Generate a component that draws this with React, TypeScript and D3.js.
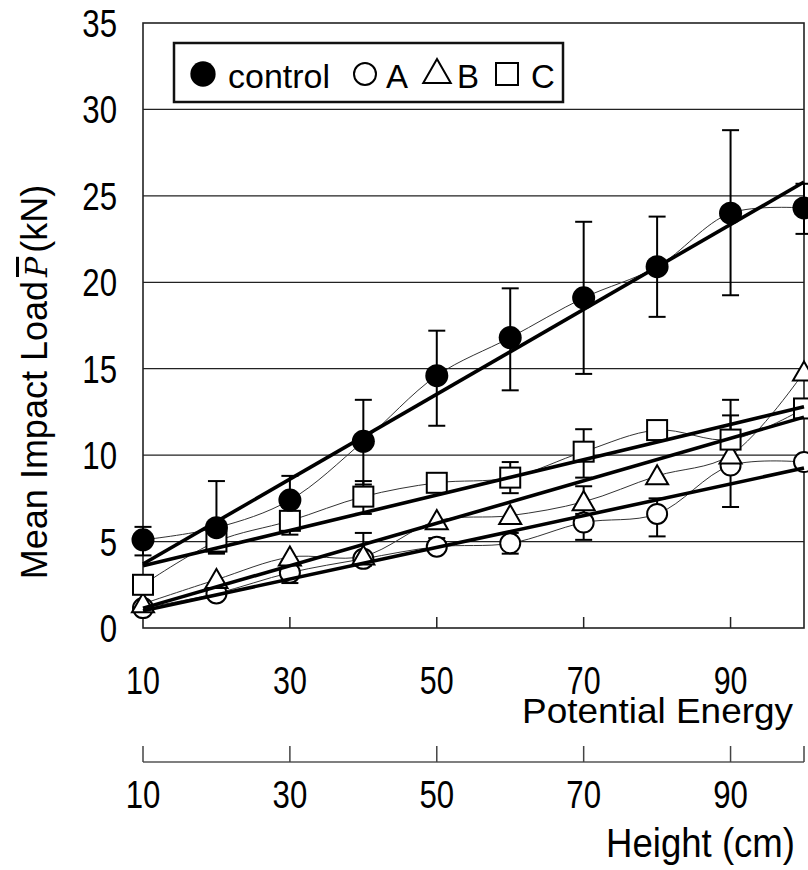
import React from "react";
import * as d3 from "d3";

// x positions (potential energy / height)
const heights = [10, 20, 30, 40, 50, 60, 70, 80, 90, 100];
const xTicks = [10, 30, 50, 70, 90];
const yTicks = [0, 5, 10, 15, 20, 25, 30, 35];
const gridValues = [5, 10, 15, 20, 25, 30];

// mean impact load (kN)
const controlValues = [5.1, 5.8, 7.4, 10.8, 14.6, 16.8, 19.1, 20.9, 24.0, 24.3];
const aValues = [1.15, 2.0, 3.2, 4.0, 4.7, 4.9, 6.1, 6.6, 9.4, 9.6];
const bValues = [1.4, 2.8, 4.1, 4.15, 6.2, 6.5, 7.3, 8.8, 10.0, 14.8];
const cValues = [2.5, 5.0, 6.2, 7.6, 8.4, 8.7, 10.2, 11.45, 10.9, 12.7];

// error bars [low, high]
const controlErr = [[4.2, 5.85], [4.3, 8.5], [6.0, 8.8], [8.3, 13.2], [11.7, 17.2], [13.75, 19.65], [14.7, 23.5], [18.0, 23.8], [19.25, 28.8], [22.8, 25.7]];
const aErr = [null, null, [2.6, 3.8], null, [4.4, 5.2], [4.3, 5.5], [5.1, 7.0], [5.3, 7.5], null, null];
const bErr = [null, null, null, [3.6, 5.5], null, null, [6.6, 8.2], null, [7.0, 13.2], null];
const cErr = [null, [4.35, 5.6], [5.4, 7.0], [6.6, 8.5], null, [7.8, 9.6], [8.7, 11.5], null, [9.6, 12.3], null];

// fitted straight lines [value at 10, value at 100]
const controlFit = [3.7, 25.8];
const aFit = [1.0, 9.25];
const bFit = [1.15, 12.2];
const cFit = [3.6, 12.8];

const W = 808;
const H = 870;
const x = d3.scaleLinear().domain([10, 100]).range([143, 804]);
const y = d3.scaleLinear().domain([0, 35]).range([628, 23]);

const sans = "'Liberation Sans', Arial, sans-serif";

type Kind = "filled" | "circle" | "triangle" | "square";

const Marker = ({ kind, cx, cy, big }: { kind: Kind; cx: number; cy: number; big?: boolean }) => {
  const k = big ? 1.1 : 1;
  if (kind === "filled") return <circle cx={cx} cy={cy} r={11.5 * k} fill="#000" />;
  if (kind === "circle")
    return <circle cx={cx} cy={cy} r={10 * k} fill="#fff" stroke="#000" strokeWidth={2} />;
  if (kind === "square")
    return <rect x={cx - 10 * k} y={cy - 10 * k} width={20 * k} height={20 * k} fill="#fff" stroke="#000" strokeWidth={2} />;
  const tk = big ? 1.25 : 1;
  const tri = d3.symbol(d3.symbolTriangle, 210 * tk * tk)();
  return <path d={tri || ""} transform={`translate(${cx},${cy + 2})`} fill="#fff" stroke="#000" strokeWidth={2} />;
};

// condensed-looking text, squeezed horizontally
const Narrow = ({ tx, ty, size, anchor, sx, children }: any) => (
  <text
    transform={`translate(${tx},${ty}) scale(${sx ?? 0.8},1)`}
    textAnchor={anchor ?? "middle"}
    fontFamily={sans}
    fontSize={size}
  >
    {children}
  </text>
);

const series = [
  { kind: "circle" as Kind, values: aValues, err: aErr, fit: aFit },
  { kind: "triangle" as Kind, values: bValues, err: bErr, fit: bFit },
  { kind: "square" as Kind, values: cValues, err: cErr, fit: cFit },
  { kind: "filled" as Kind, values: controlValues, err: controlErr, fit: controlFit },
];

const smooth = d3
  .line<number>()
  .x((_, i) => x(heights[i]))
  .y((d) => y(d))
  .curve(d3.curveCatmullRom.alpha(0.5));

export default function App() {
  return (
    <svg width={W} height={H} style={{ position: "absolute", left: 0, top: 0, background: "#fff" }}>
      <rect width={W} height={H} fill="#fff" />
      {/* grid */}
      {gridValues.map((v) => (
        <line key={v} x1={x(10)} x2={x(100)} y1={y(v)} y2={y(v)} stroke="#222" strokeWidth={1.2} />
      ))}
      {/* frame */}
      <rect x={x(10)} y={y(35)} width={x(100) - x(10)} height={y(0) - y(35)} fill="none" stroke="#222" strokeWidth={1.6} />
      {xTicks.slice(1).map((t) => (
        <line key={t} x1={x(t)} x2={x(t)} y1={y(0)} y2={y(0) - 11} stroke="#222" strokeWidth={1.5} />
      ))}

      {/* thin smoothed connecting lines */}
      {series.map((s) => (
        <path key={s.kind} d={smooth(s.values) || ""} fill="none" stroke="#333" strokeWidth={1} />
      ))}

      {/* error bars */}
      {series.map((s) =>
        s.err.map((e, i) =>
          e ? (
            <g key={s.kind + i} stroke="#000" strokeWidth={2}>
              <line x1={x(heights[i])} x2={x(heights[i])} y1={y(e[0])} y2={y(e[1])} />
              <line x1={x(heights[i]) - 8.5} x2={x(heights[i]) + 8.5} y1={y(e[0])} y2={y(e[0])} />
              <line x1={x(heights[i]) - 8.5} x2={x(heights[i]) + 8.5} y1={y(e[1])} y2={y(e[1])} />
            </g>
          ) : null
        )
      )}

      {/* markers */}
      {series.map((s) =>
        s.values.map((v, i) => <Marker key={s.kind + "m" + i} kind={s.kind} cx={x(heights[i])} cy={y(v)} />)
      )}

      {/* fitted lines */}
      {series.map((s) => (
        <line key={s.kind + "fit"} x1={x(10)} x2={x(100)} y1={y(s.fit[0])} y2={y(s.fit[1])} stroke="#000" strokeWidth={3.6} />
      ))}

      {/* legend */}
      <rect x={174} y={43} width={389} height={59} fill="#fff" stroke="#111" strokeWidth={2.5} />
      <Marker kind="filled" cx={203} cy={74} big />
      <text x={228} y={88} fontFamily={sans} fontSize={33} textLength={102} lengthAdjust="spacingAndGlyphs">control</text>
      <Marker kind="circle" cx={365} cy={74} big />
      <text x={386} y={88} fontFamily={sans} fontSize={33}>A</text>
      <Marker kind="triangle" cx={437} cy={73} big />
      <text x={457} y={88} fontFamily={sans} fontSize={33}>B</text>
      <Marker kind="square" cx={507} cy={74} big />
      <text x={531} y={88} fontFamily={sans} fontSize={33}>C</text>

      {/* y tick labels */}
      {yTicks.map((t) => (
        <Narrow key={t} tx={117} ty={y(t) + 14} size={39} anchor="end">
          {t}
        </Narrow>
      ))}

      {/* y axis title */}
      <text
        transform={`translate(47,382) rotate(-90)`}
        textAnchor="middle"
        fontFamily={sans}
        fontSize={36}
      >
        Mean Impact Load
        <tspan fontFamily="'DejaVu Serif', serif" fontStyle="italic" fontSize={30} style={{ textDecoration: "overline" }} dx={4}>P</tspan>
        <tspan dx={4}>(kN)</tspan>
      </text>

      {/* potential energy axis labels */}
      {xTicks.map((t) => (
        <Narrow key={"pe" + t} tx={x(t)} ty={694} size={38}>
          {t}
        </Narrow>
      ))}
      <text x={793} y={723} textAnchor="end" fontFamily={sans} fontSize={35} textLength={271} lengthAdjust="spacingAndGlyphs">
        Potential Energy
      </text>

      {/* height axis */}
      <line x1={x(10)} x2={x(100)} y1={762} y2={762} stroke="#555" strokeWidth={1.5} />
      {[...xTicks, 100].map((t) => (
        <line key={"ht" + t} x1={x(t)} x2={x(t)} y1={746} y2={762} stroke="#444" strokeWidth={1.5} />
      ))}
      {xTicks.map((t) => (
        <Narrow key={"h" + t} tx={x(t)} ty={808} size={39}>
          {t}
        </Narrow>
      ))}
      <text x={795} y={857} textAnchor="end" fontFamily={sans} fontSize={40} textLength={189} lengthAdjust="spacingAndGlyphs">
        Height (cm)
      </text>
    </svg>
  );
}
